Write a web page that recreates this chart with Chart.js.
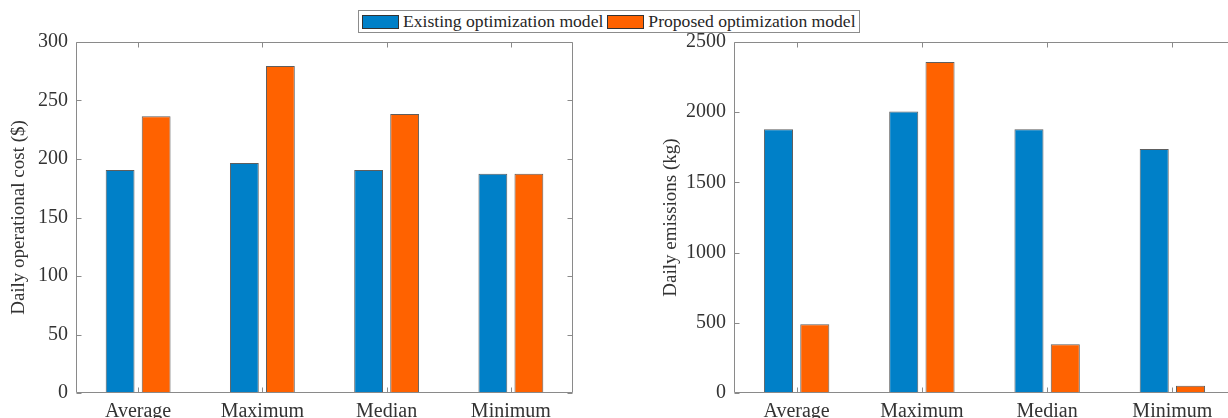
<!DOCTYPE html>
<html><head><meta charset="utf-8">
<script src="https://cdn.jsdelivr.net/npm/chart.js@4.4.1/dist/chart.umd.min.js"></script>
<style>
html,body{margin:0;padding:0;background:#fff;overflow:hidden;width:1228px;height:418px;position:relative;}
#c1wrap{position:absolute;left:0;top:0;width:600px;height:450px;}
#c2wrap{position:absolute;left:640px;top:0;width:620px;height:450px;}
#legend{position:absolute;left:358px;top:10px;height:23px;border:1px solid #8c8c8c;box-sizing:border-box;
  font-family:'Liberation Serif',serif;font-size:17.6px;color:#262626;display:inline-flex;align-items:center;padding:0 3px 0 3px;background:#fff;white-space:nowrap;}
#legend .sw{display:inline-block;width:37px;height:14px;box-sizing:border-box;border:1px solid #333;}
#legend .tx{margin-left:4px;margin-right:4px;}
</style>
</head><body>
<div id="c1wrap"><canvas id="c1"></canvas></div>
<div id="c2wrap"><canvas id="c2"></canvas></div>
<div id="legend"><span class="sw" id="sw1"></span><span class="tx">Existing optimization model</span><span class="sw" id="sw2"></span><span class="tx" style="margin-right:0">Proposed optimization model</span></div>
<script>
const categories = ['Average', 'Maximum', 'Median', 'Minimum'];
const seriesNames = ['Existing optimization model', 'Proposed optimization model'];
const costExisting = [190.5, 196.5, 190.5, 187.5];
const costProposed = [236.5, 279.5, 238.5, 187.5];
const emisExisting = [1878, 2005, 1878, 1738];
const emisProposed = [490, 2357, 347, 52];
const costTicks = {min: 0, max: 300, step: 50};
const emisTicks = {min: 0, max: 2500, step: 500};

const BLUE = '#0080C8';
const ORANGE = '#FF6200';
const AXIS = '#8a8a8a';
const TEXT = '#333333';
const FONT = 'Liberation Serif';

document.getElementById('sw1').style.background = BLUE;
document.getElementById('sw2').style.background = ORANGE;

const framePlugin = {
  id: 'frame',
  afterDatasetsDraw(chart) {
    const {ctx, chartArea: a, scales: {x, y}} = chart;
    const L = Math.round(a.left) + 0.5, R = Math.round(a.right) - 0.5;
    const T = Math.round(a.top) + 0.5, B = Math.round(a.bottom) - 0.5;
    ctx.save();
    ctx.strokeStyle = AXIS;
    ctx.lineWidth = 1;
    ctx.beginPath();
    ctx.moveTo(L, T); ctx.lineTo(R, T); ctx.lineTo(R, B); ctx.lineTo(L, B); ctx.closePath();
    const tl = 5;
    y.ticks.forEach((t, i) => {
      const py = Math.round(y.getPixelForTick(i)) + 0.5;
      ctx.moveTo(L, py); ctx.lineTo(L + tl, py);
      ctx.moveTo(R, py); ctx.lineTo(R - tl, py);
    });
    x.ticks.forEach((t, i) => {
      const px = Math.round(x.getPixelForTick(i)) + 0.5;
      ctx.moveTo(px, B); ctx.lineTo(px, B - tl);
      ctx.moveTo(px, T); ctx.lineTo(px, T + tl);
    });
    ctx.stroke();
    ctx.restore();
  }
};

function makeChart(id, existing, proposed, tk, title, yWidth, rightPad, titlePad) {
  return new Chart(document.getElementById(id), {
    type: 'bar',
    data: {
      labels: categories,
      datasets: [
        {label: seriesNames[0], data: existing, backgroundColor: BLUE, borderColor: 'rgba(40,40,40,0.75)', borderWidth: 1},
        {label: seriesNames[1], data: proposed, backgroundColor: ORANGE, borderColor: 'rgba(40,40,40,0.75)', borderWidth: 1}
      ]
    },
    options: {
      responsive: true, maintainAspectRatio: false, animation: false,
      layout: {padding: {top: 42, right: rightPad, left: 0, bottom: 0}},
      plugins: {legend: {display: false}, tooltip: {enabled: false}},
      datasets: {bar: {categoryPercentage: 0.58, barPercentage: 0.8}},
      scales: {
        x: {
          grid: {display: false, drawTicks: false}, border: {display: false},
          ticks: {font: {family: FONT, size: 20}, color: TEXT, padding: 7, maxRotation: 0, autoSkip: false},
          afterFit(s) { s.height = 57; }
        },
        y: {
          min: tk.min, max: tk.max,
          grid: {display: false, drawTicks: false}, border: {display: false},
          ticks: {stepSize: tk.step, font: {family: FONT, size: 20}, color: TEXT, padding: 8,
                  callback: v => String(v)},
          title: {display: true, text: title, font: {family: FONT, size: 19}, color: TEXT, padding: {top: titlePad, bottom: 0}},
          afterFit(s) { s.width = yWidth; }
        }
      }
    },
    plugins: [framePlugin]
  });
}

makeChart('c1', costExisting, costProposed, costTicks, 'Daily operational cost ($)', 76, 27, 8);
makeChart('c2', emisExisting, emisProposed, emisTicks, 'Daily emissions (kg)', 94, 25, 20);
</script>
</body></html>
